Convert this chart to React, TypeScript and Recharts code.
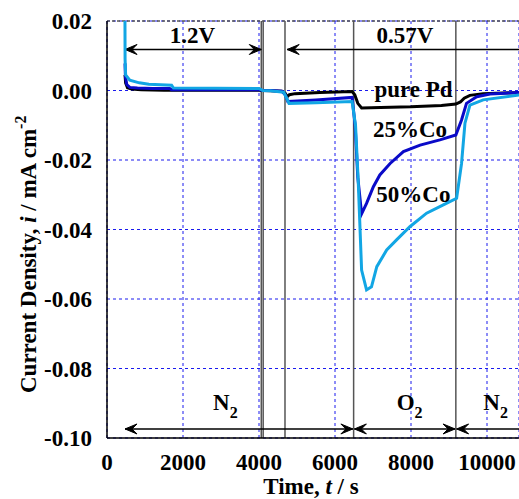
import React from "react";
import {
  LineChart,
  Line,
  XAxis,
  YAxis,
  CartesianGrid,
  ReferenceLine,
  ReferenceDot,
} from "recharts";

// time axis ticks and current ticks
const timeTicks = [0, 2000, 4000, 6000, 8000, 10000];
const currentTicks = [0.02, 0, -0.02, -0.04, -0.06, -0.08, -0.1];

// gas / potential switch times (s)
const switchTimes = [4060, 4110, 4684, 6490, 9180];

// pure Pd
const pdTime = [474, 490, 540, 650, 900, 1500, 4000, 4080, 4300, 4600, 4690, 4740, 4800, 4950, 5600, 6450, 6520, 6600, 6700, 7200, 8000, 8800, 9180, 9300, 9400, 9550, 9900, 10850];
const pdCurrent = [0.0045, 0.0022, 0.0008, 0.0004, 0.0002, 0.0001, 0.0001, 0.0, -0.0001, -0.0002, -0.0008, -0.0018, -0.0012, -0.0009, -0.0006, -0.0003, -0.0012, -0.0037, -0.005, -0.0049, -0.0047, -0.0043, -0.0039, -0.0033, -0.0022, -0.0014, -0.0009, -0.0006];

// 25%Co
const co25Time = [474, 485, 520, 600, 800, 1200, 1650, 1700, 4000, 4080, 4300, 4600, 4690, 4760, 5500, 6450, 6530, 6600, 6700, 6830, 7010, 7180, 7450, 7800, 8240, 8760, 9180, 9330, 9460, 9730, 10080, 10850];
const co25Current = [0.0078, 0.004, 0.0017, 0.0009, 0.0007, 0.0006, 0.0006, 0.0002, 0.0002, 0.0001, 0.0, -0.0002, -0.0012, -0.0032, -0.0027, -0.002, -0.01, -0.025, -0.0355, -0.0325, -0.0277, -0.0243, -0.021, -0.0176, -0.0157, -0.0142, -0.0128, -0.0085, -0.0037, -0.0018, -0.001, -0.0006];

// 50%Co
const co50Time = [470, 476, 490, 600, 850, 1100, 1700, 1750, 4000, 4100, 4300, 4650, 4720, 4790, 5500, 6450, 6540, 6610, 6700, 6830, 6960, 7100, 7360, 7620, 7970, 8410, 8850, 9200, 9330, 9420, 9550, 9900, 10850];
const co50Current = [0.03, 0.009, 0.0045, 0.003, 0.0022, 0.0018, 0.0015, 0.0007, 0.0006, 0.0, -0.0001, -0.0005, -0.002, -0.0037, -0.0035, -0.0032, -0.01, -0.0258, -0.0517, -0.0574, -0.0565, -0.0507, -0.0459, -0.043, -0.0392, -0.0353, -0.0329, -0.031, -0.021, -0.0094, -0.0042, -0.0027, -0.0013];

const toPoints = (t: number[], i: number[]) => t.map((v, k) => ({ t: v, i: i[k] }));

const FONT = "'Liberation Serif', 'Times New Roman', serif";
const textStyle = { fontFamily: FONT, fontWeight: "bold" as const, fontSize: 23, fill: "#000" };

// double headed arrow drawn from a reference segment
const Arrow = (p: any) => {
  const { x1, y1, x2, y2 } = p;
  const a = Math.min(x1, x2);
  const b = Math.max(x1, x2);
  return (
    <g>
      <line x1={a} y1={y1} x2={b} y2={y2} stroke="#000" strokeWidth={1.5} />
      <path d={`M${a},${y1} L${a + 12},${y1 - 5} L${a + 7},${y1} L${a + 12},${y1 + 5} Z`} fill="#000" stroke="#000" strokeWidth={1} />
      <path d={`M${b},${y1} L${b - 12},${y1 - 5} L${b - 7},${y1} L${b - 12},${y1 + 5} Z`} fill="#000" stroke="#000" strokeWidth={1} />
    </g>
  );
};

const arrowSegments = [
  { from: 474, to: 4060, y: 0.0118 },
  { from: 4740, to: 11200, y: 0.0118 },
  { from: 474, to: 6470, y: -0.0974 },
  { from: 6510, to: 9160, y: -0.0974 },
  { from: 9200, to: 11200, y: -0.0974 },
];

const PlainLabel = (text: string) => (p: any) => (
  <text x={p.cx} y={p.cy} textAnchor="middle" style={textStyle}>
    {text}
  </text>
);

const GasLabel = (gas: string) => (p: any) => (
  <text x={p.cx} y={p.cy} textAnchor="start" style={textStyle}>
    {gas}
    <tspan dy={8} fontSize={16}>2</tspan>
  </text>
);

export default function App() {
  return (
    <div style={{ position: "absolute", left: 0, top: 0, width: 519, height: 499, background: "#fff" }}>
      <LineChart width={519} height={499} margin={{ top: 21, right: 0, left: 0, bottom: 0 }}>
        <CartesianGrid stroke="#1a1aee" strokeDasharray="3 3" strokeWidth={1} />
        <XAxis
          type="number"
          dataKey="t"
          domain={[0, 10842]}
          ticks={timeTicks}
          allowDataOverflow
          height={61}
          tickLine={false}
          tickSize={6}
          tickMargin={10}
          axisLine={{ stroke: "#000", strokeWidth: 1.5 }}
          tick={textStyle}
          label={(props: any) => {
            const vb = props.viewBox || { x: 107, y: 438, width: 412 };
            return (
              <text x={vb.x + vb.width / 2 - 2} y={vb.y + 56} textAnchor="middle" style={textStyle}>
                Time, <tspan fontStyle="italic">t</tspan> / s
              </text>
            );
          }}
        />
        <YAxis
          type="number"
          dataKey="i"
          domain={[-0.1, 0.02]}
          ticks={currentTicks}
          allowDataOverflow
          width={107}
          tickLine={false}
          tickSize={6}
          tickMargin={9}
          axisLine={{ stroke: "#000", strokeWidth: 1.5 }}
          tick={textStyle}
          tickFormatter={(v: number) => v.toFixed(2)}
          label={(props: any) => {
            const vb = props.viewBox || { x: 0, y: 21, height: 417 };
            return (
              <text transform={`translate(${vb.x + 36}, ${vb.y + vb.height - 45}) rotate(-90)`} textAnchor="start" style={textStyle}>
                Current Density, <tspan fontStyle="italic">i</tspan> / mA cm
                <tspan dy={-10} fontSize={16}>-2</tspan>
              </text>
            );
          }}
        />
        <ReferenceLine y={0.02} stroke="#555" strokeDasharray="3 2" strokeWidth={1.5} />
        {switchTimes.map((t) => (
          <ReferenceLine key={t} x={t} stroke="#555" strokeWidth={1.5} />
        ))}
        {arrowSegments.map((s, k) => (
          <ReferenceLine
            key={"arrow" + k}
            ifOverflow="visible"
            segment={[{ x: s.from, y: s.y }, { x: s.to, y: s.y }]}
            shape={Arrow}
          />
        ))}
        <Line data={toPoints(pdTime, pdCurrent)} dataKey="i" stroke="#000" strokeWidth={3} dot={false} isAnimationActive={false} type="linear" />
        <Line data={toPoints(co25Time, co25Current)} dataKey="i" stroke="#0a0ac8" strokeWidth={3} dot={false} isAnimationActive={false} type="linear" />
        <Line data={toPoints(co50Time, co50Current)} dataKey="i" stroke="#12a6e4" strokeWidth={3} dot={false} isAnimationActive={false} type="linear" />
        <ReferenceDot x={2250} y={0.0136} r={0} shape={PlainLabel("1.2V")} />
        <ReferenceDot x={7842} y={0.0136} r={0} shape={PlainLabel("0.57V")} />
        <ReferenceDot x={8066} y={-0.0018} r={0} shape={PlainLabel("pure Pd")} />
        <ReferenceDot x={7974} y={-0.0133} r={0} shape={PlainLabel("25%Co")} />
        <ReferenceDot x={8062} y={-0.032} r={0} shape={PlainLabel("50%Co")} />
        <ReferenceDot x={2790} y={-0.092} r={0} shape={GasLabel("N")} />
        <ReferenceDot x={7624} y={-0.092} r={0} shape={GasLabel("O")} />
        <ReferenceDot x={9903} y={-0.092} r={0} shape={GasLabel("N")} />
      </LineChart>
    </div>
  );
}
